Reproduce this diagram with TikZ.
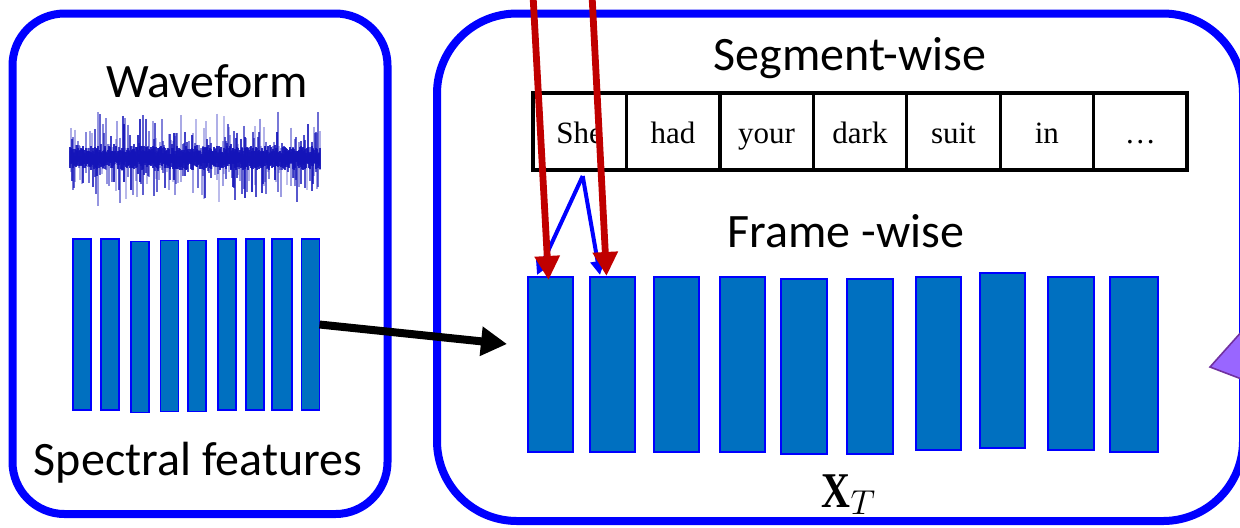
\documentclass[tikz,border=0pt]{standalone}
\usepackage[no-math]{fontspec}
\usepackage{graphicx}
\setmainfont{Carlito}
\newfontfamily\wordfont{Liberation Serif}
\usetikzlibrary{arrows.meta,calc}
\definecolor{panelblue}{RGB}{0,0,255}
\definecolor{framefill}{RGB}{0,112,192}
\definecolor{arrred}{RGB}{192,0,0}
\definecolor{tripurple}{RGB}{153,102,255}
\definecolor{tridark}{RGB}{112,48,160}
\definecolor{wave}{RGB}{20,20,185}
\begin{document}
\begin{tikzpicture}[x=0.5pt,y=-0.5pt,
  panel/.style={draw=panelblue, line width=4pt, rectangle, inner sep=0pt, outer sep=0pt},
  lframe/.style={draw=panelblue, fill=framefill, line width=0.9pt, minimum width=9pt, minimum height=85.5pt, inner sep=0pt, outer sep=0pt},
  rframe/.style={draw=panelblue, fill=framefill, line width=1.1pt, minimum width=22.5pt, minimum height=87.5pt, inner sep=0pt, outer sep=0pt},
  cell/.style={draw=black, line width=1.6pt, minimum width=46.7pt, minimum height=38.5pt, inner sep=0pt, outer sep=0pt, text height=14pt, text depth=2.5pt, font=\wordfont\fontsize{15.5}{18}\selectfont},
  title/.style={font=\fontsize{24}{28}\selectfont, inner sep=0pt, anchor=base},
  redarrow/.style={draw=arrred, line width=3.4pt, -{Triangle[length=12pt,width=12pt]}},
  bluearrow/.style={draw=panelblue, line width=2pt, -{Triangle[length=7pt,width=7pt]}},
  blackarrow/.style={draw=black, line width=4pt, -{Triangle[length=13pt,width=14pt]}},
  wavestroke/.style={draw=wave, line width=0.7pt}]
\useasboundingbox (0,0) rectangle (1240,527);
\clip (0,0) rectangle (1240,527);

% panels
\node[panel, rounded corners=26pt, minimum width=187.5pt, minimum height=250.25pt] (lpanel) at (200,263.75) {};
\node[panel, rounded corners=40pt, minimum width=403pt, minimum height=253.75pt] (rpanel) at (840,267.25) {};

% purple triangle (partly outside)
\filldraw[fill=tripurple, draw=tridark, line width=0.8pt] (1210,367) -- (1252,320) -- (1252,383) -- cycle;

% titles
\node[title] (twave) at (207,97) {Waveform};
\node[title] (tspec) at (198,475) {Spectral features};
\node[title] (tseg) at (850,70) {Segment-wise};
\node[title] (tframe) at (846,247) {Frame -wise};

% waveform
\pgfmathsetseed{42}
\foreach \i in {0,...,250}{
  \pgfmathsetmacro{\env}{0.55+0.45*abs(sin(\i*9))}
  \pgfmathsetmacro{\up}{6+42*\env*pow(rnd,2.2)}
  \pgfmathsetmacro{\dn}{6+44*\env*pow(rnd,2.2)}
  \pgfmathsetmacro{\op}{0.25+0.65*rnd}
  \draw[wavestroke, opacity=\op] (70+\i,158-\up) -- (70+\i,158+\dn);
}
\foreach \i in {0,...,250}{
  \pgfmathsetmacro{\up}{4+8*rnd}
  \pgfmathsetmacro{\dn}{4+8*rnd}
  \draw[wavestroke, opacity=0.9] (70+\i,158-\up) -- (70+\i,158+\dn);
}
\draw[draw=wave, line width=2pt] (70,158) -- (320,158);

% left frames
\node[lframe] (l1) at (82,324.5) {};
\node[lframe] (l2) at (110,324.5) {};
\node[lframe] (l3) at (140,327) {};
\node[lframe] (l4) at (169.5,326) {};
\node[lframe] (l5) at (197,326) {};
\node[lframe] (l6) at (227,324.5) {};
\node[lframe] (l7) at (255,324.5) {};
\node[lframe, minimum width=10pt] (l8) at (282,324.5) {};
\node[lframe] (l9) at (310.5,324.5) {};

% right frames
\node[rframe] (r1) at (550.5,364.5) {};
\node[rframe] (r2) at (612.5,364.5) {};
\node[rframe] (r3) at (676.5,364.5) {};
\node[rframe] (r4) at (742.5,364.5) {};
\node[rframe, minimum width=23pt] (r5) at (804,366.5) {};
\node[rframe, minimum width=23pt] (r6) at (870,366.5) {};
\node[rframe, minimum height=86.5pt] (r7) at (938.5,363.5) {};
\node[rframe] (r8) at (1002.5,360.5) {};
\node[rframe, minimum width=23pt, minimum height=86.5pt] (r9) at (1071,363.5) {};
\node[rframe, minimum width=24pt] (r10) at (1134,364.5) {};

% word cells
\node[cell] (w1) at (579.7,131.5) {She};
\node[cell] (w2) at (673.1,131.5) {had};
\node[cell] (w3) at (766.6,131.5) {your};
\node[cell] (w4) at (860.0,131.5) {dark};
\node[cell] (w5) at (953.4,131.5) {suit};
\node[cell] (w6) at (1046.9,131.5) {in};
\node[cell] (w7) at (1140.3,131.5) {…};

% X_T
\node[inner sep=0pt, anchor=base] (xt) at (849,507) {\scalebox{0.8}[1]{\wordfont\bfseries\fontsize{25}{28}\selectfont X}\fontsize{25}{28}\selectfont$_{T}$};

% black arrow
\coordinate (ain) at (507,344);
\draw[blackarrow] (l9.east) -- (ain);

% blue arrows
\coordinate (bs) at ($(w1.south)+(3,6)$);
\draw[bluearrow] (bs) -- ($(r1.north west)+(9,-2)$);
\draw[bluearrow] (bs) -- ($(r2.north west)+(10,-2)$);

% red arrows
\coordinate (rs1) at (533,-5);
\coordinate (rs2) at (592,-5);
\draw[redarrow] (rs1) -- ($(r1.north)+(-2,3)$);
\draw[redarrow] (rs2) -- ($(r2.north)+(-6,-1)$);
\end{tikzpicture}
\end{document}
